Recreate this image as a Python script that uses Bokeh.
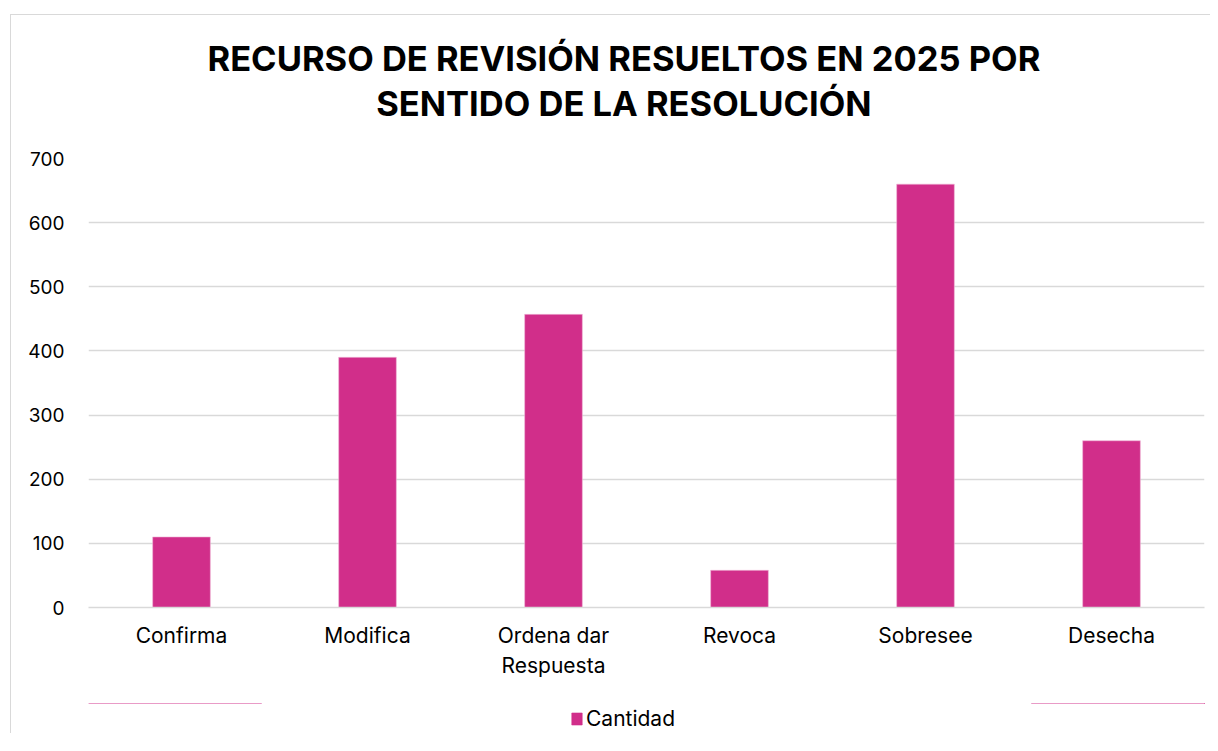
from bokeh.plotting import figure
from bokeh.layouts import column
from bokeh.models import Title, Legend, LegendItem, SingleIntervalTicker, Range1d
from bokeh.embed import file_html
from bokeh.resources import INLINE

categories = ["Confirma", "Modifica", "Ordena dar\nRespuesta", "Revoca", "Sobresee", "Desecha"]
cantidad = [110, 390, 457, 58, 660, 260]
series_name = "Cantidad"
title_line1 = "RECURSO DE REVISIÓN RESUELTOS EN 2025 POR"
title_line2 = "SENTIDO DE LA RESOLUCIÓN"

FONT = "Inter"
BAR = "#D12E8A"

p = figure(x_range=categories, y_range=(0, 700), frame_width=1116, frame_height=449,
           output_backend="svg", toolbar_location=None, title=None,
           min_border_left=78, min_border_right=6, min_border_top=157, min_border_bottom=96)
p.border_fill_alpha = 0

r = p.vbar(x=categories, top=cantidad, width=0.31, fill_color=BAR, line_color="#F0B8D6", line_width=0.6)

t = Title(text=title_line1 + "\n" + title_line2, align="left", text_font=FONT,
          text_font_size="34.5px", text_font_style="bold", text_color="#000000",
          text_line_height=1.12, standoff=68, offset=119)
if "text_align" in Title.properties():
    t.text_align = "center"
p.add_layout(t, "above")

p.outline_line_color = None
p.xgrid.grid_line_color = None
p.ygrid.grid_line_color = "#d9d9d9"
p.ygrid.grid_line_width = 1.5
p.yaxis.ticker = SingleIntervalTicker(interval=100)
p.yaxis.axis_line_color = None
p.yaxis.major_tick_line_color = None
p.yaxis.minor_tick_line_color = None
p.yaxis.major_tick_out = 0
p.yaxis.major_label_standoff = 20
p.yaxis.major_label_text_font = FONT
p.yaxis.major_label_text_font_size = "19px"
p.yaxis.major_label_text_color = "#000000"

p.xaxis.axis_line_color = "#d9d9d9"
p.xaxis.axis_line_width = 1.5
p.xaxis.major_tick_line_color = None
p.xaxis.major_tick_out = 0
p.xaxis.major_label_standoff = 15
p.xaxis.major_label_text_font = FONT
p.xaxis.major_label_text_font_size = "21px"
p.xaxis.major_label_text_color = "#000000"
p.x_range.range_padding = 0

# legend strip below the chart (proxy renderer kept outside the visible range)
p2 = figure(width=1200, height=30, output_backend="svg", toolbar_location=None,
            x_range=Range1d(0, 1), y_range=Range1d(-2, -1),
            x_axis_location=None, y_axis_location=None,
            min_border_left=0, min_border_right=0, min_border_top=0, min_border_bottom=0)
p2.xgrid.grid_line_color = None
p2.ygrid.grid_line_color = None
p2.outline_line_color = None
p2.background_fill_alpha = 0
p2.border_fill_alpha = 0
r2 = p2.vbar(x=list(range(len(cantidad))), top=cantidad, width=0.31,
             fill_color=BAR, line_color=BAR, line_width=0.6)

legend = Legend(items=[LegendItem(label=series_name, renderers=[r2])],
                orientation="horizontal", location=(482, 2),
                label_text_font=FONT, label_text_font_size="21px", label_text_color="#000000",
                glyph_width=13, glyph_height=15, label_standoff=3,
                border_line_color=None, background_fill_alpha=0, margin=0, padding=0)
p2.add_layout(legend, "center")

layout = column(p, p2, spacing=0)
layout.styles = {"margin-left": "10px", "margin-top": "1px",
                 "background": "linear-gradient(#d9d9d9,#d9d9d9) 0 13px / 100% 1px no-repeat, "
                               "linear-gradient(#d9d9d9,#d9d9d9) 0 13px / 1px 100% no-repeat, #ffffff"}

open("out.html", "w").write(file_html(layout, INLINE))
